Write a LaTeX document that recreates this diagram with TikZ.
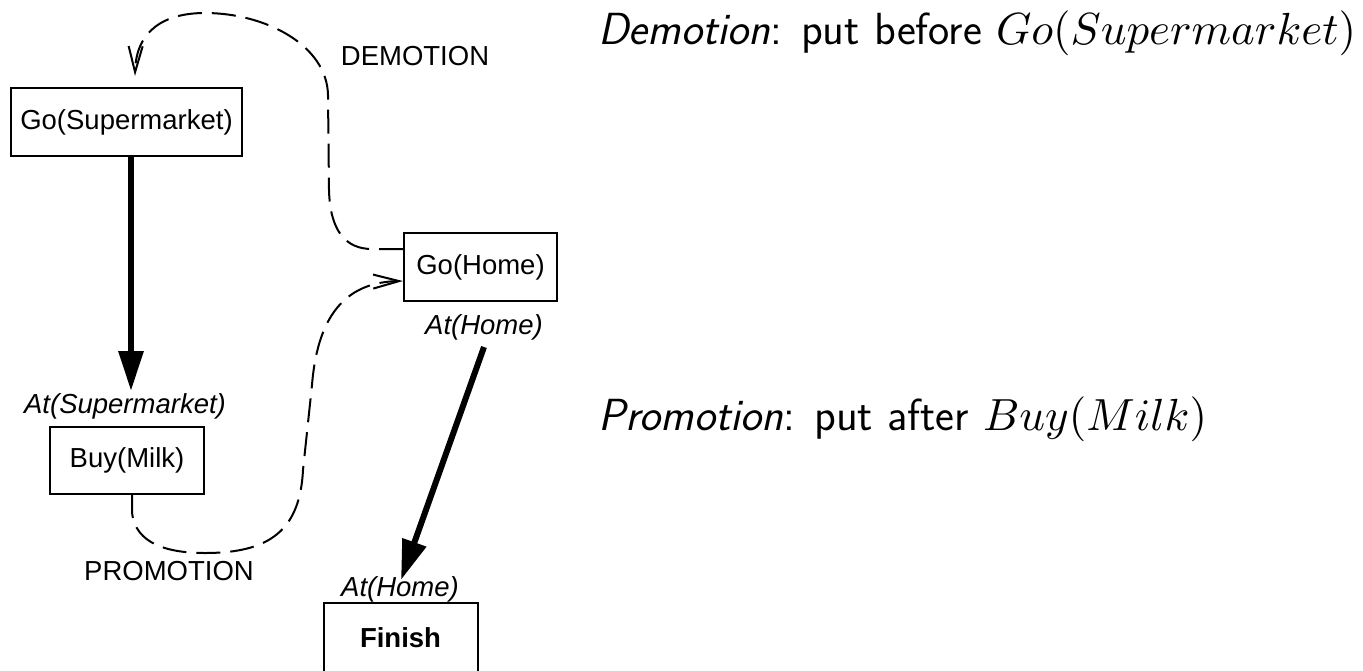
\documentclass[tikz,border=0pt]{standalone}
\usepackage{fontspec}
\newfontfamily\helv{Liberation Sans}
% scalable math italic at any size
\DeclareFontShape{OML}{cmm}{m}{it}{<->cmmi10}{}
\DeclareFontShape{OMS}{cmsy}{m}{n}{<->cmsy10}{}
\DeclareFontShape{OT1}{cmr}{m}{n}{<->cmr10}{}
\usetikzlibrary{arrows.meta}
\tikzset{
  lbl/.style={font=\fontsize{27.5}{33}\selectfont\helv, inner sep=0pt},
  cond/.style={font=\fontsize{27.5}{33}\selectfont\helv\itshape, inner sep=0pt},
  stepbox/.style={draw, line width=2pt, font=\fontsize{27.5}{33}\selectfont\helv, inner sep=0pt},
  causal/.style={line width=6pt, -{Triangle[length=40pt,width=24pt]}},
  threat/.style={line width=2pt, dash pattern=on 24pt off 10pt, -{Straight Barb[length=26pt,width=14pt,line width=2pt]}},
  note/.style={anchor=base west, inner sep=0pt, font=\fontsize{45}{54}\selectfont\sffamily}
}
\begin{document}
\begin{tikzpicture}[x=1pt,y=-1pt]
\useasboundingbox (0,0) rectangle (1363,670);

% plan steps
\node[stepbox, minimum width=231pt, minimum height=68pt] (gosm) at (126.5,122) {Go(Supermarket)};
\node[stepbox, minimum width=154pt, minimum height=67pt] (buy) at (127,460.5) {Buy(Milk)};
\node[stepbox, minimum width=153pt, minimum height=68pt] (goh) at (480.5,267) {Go(Home)};
\node[stepbox, minimum width=154pt, minimum height=70pt] (fin) at (400.5,638) {\bfseries Finish};

% conditions on the causal links
\node[cond] (atsm) at (125,406) {At(Supermarket)};
\node[cond] (ath1) at (484,327) {At(Home)};
\node[cond] (ath2) at (400,589) {At(Home)};

% threat resolution labels
\node[lbl] (dem) at (415,56) {DEMOTION};
\node[lbl] (pro) at (169,571) {PROMOTION};

% causal links
\coordinate (tipA) at (131,391);
\coordinate (tipB) at (401,580);
\coordinate (startB) at (484,347);
\draw[causal] (gosm.south -| tipA) -- (tipA);
\draw[causal] (startB) -- (tipB);

% demotion: Go(Home) before Go(Supermarket)
\coordinate (demA) at (goh.west |- 0,249);
\coordinate (demB) at (135,76);
\draw[threat] (demA) -- (372,249)
  .. controls (345,249) and (330,230) .. (329,190)
  -- (328,95)
  .. controls (327,45) and (265,13) .. (205,13)
  .. controls (165,13) and (136,30) .. (demB);

% promotion: Go(Home) after Buy(Milk)
\coordinate (proA) at (132,494);
\coordinate (proB) at (goh.west |- 0,281);
\draw[threat] (proA) -- (132,512)
  .. controls (135,545) and (170,553) .. (205,553)
  .. controls (270,553) and (300,530) .. (303,470)
  -- (312,385)
  .. controls (318,310) and (350,282) .. (proB);

% notes on the right
\node[note] (tdem) at (598,44) {\textsl{Demotion}: put before $Go(Supermarket)$};
\node[note] (tpro) at (598,430) {\textsl{Promotion}: put after $Buy(Milk)$};
\end{tikzpicture}
\end{document}
